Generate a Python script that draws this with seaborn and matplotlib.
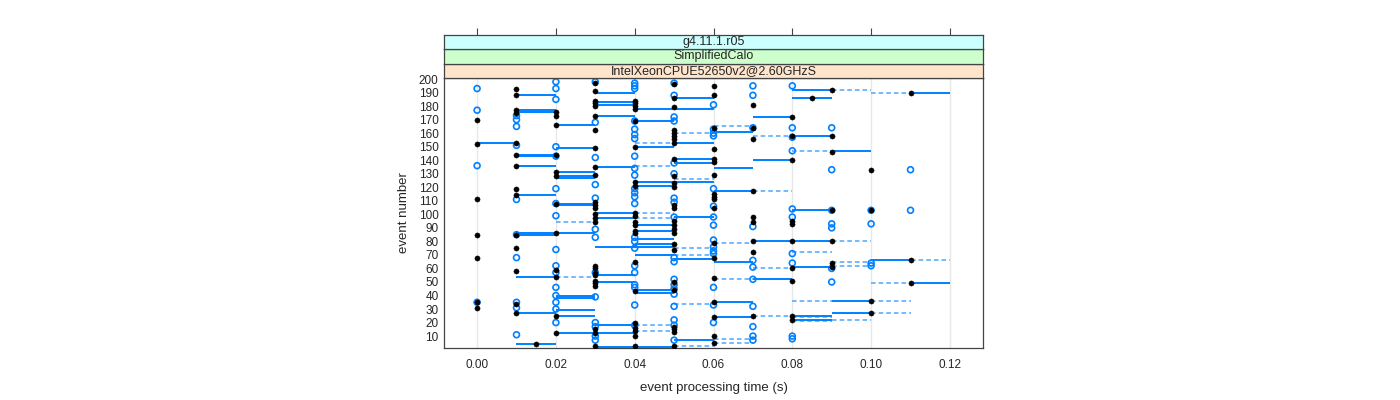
import numpy as np
import pandas as pd
import matplotlib
matplotlib.use("Agg")
import matplotlib.pyplot as plt
import seaborn as sns

# ---------------- data ----------------
strip_labels = ["g4.11.1.r05", "SimplifiedCalo", "IntelXeonCPUE52650v2@2.60GHzS"]
strip_colors = ["#ccffff", "#ccffcc", "#ffe5cc"]

x_ticks = [0.00, 0.02, 0.04, 0.06, 0.08, 0.10, 0.12]
y_ticks = list(range(10, 201, 10))

# black dots: time -> event numbers
black_pts = {
    0.000: [170, 152, 111, 85, 68, 35, 31],
    0.010: [193, 188, 177, 175, 153, 144, 136, 119, 114, 85, 75, 58, 34, 27],
    0.015: [4],
    0.020: [176, 173, 166, 144, 131, 128, 108, 86, 59, 54, 25, 12],
    0.030: [197, 191, 184, 182, 180, 173, 162, 149, 135, 129, 109, 107, 105, 100,
            97, 94, 62, 60, 57, 55, 51, 49, 47, 15, 12, 3],
    0.040: [184, 182, 180, 178, 169, 150, 124, 121, 101, 99, 94, 92, 88, 86, 65,
            43, 20, 16, 14, 10, 3],
    0.050: [196, 186, 179, 162, 160, 158, 156, 153, 141, 128, 123, 120, 107, 105,
            95, 92, 89, 86, 78, 74, 50, 44, 17, 15, 13, 3],
    0.060: [195, 188, 164, 148, 141, 139, 129, 115, 113, 111, 105, 79, 68, 53, 35,
            24, 10, 5],
    0.070: [181, 164, 156, 117, 98, 94, 80, 72, 25],
    0.080: [172, 158, 140, 95, 93, 80, 60, 51, 25, 22],
    0.085: [186],
    0.090: [192, 158, 146, 103, 80, 64, 61],
    0.100: [133, 103, 36, 27],
    0.110: [190, 66, 49],
}

# open circles: time -> event numbers
open_pts = {
    0.000: [193, 177, 136, 35],
    0.010: [173, 170, 165, 151, 111, 85, 68, 35, 31, 11],
    0.020: [198, 193, 185, 150, 143, 119, 108, 99, 74, 62, 57, 46, 40, 35, 30, 20],
    0.030: [198, 168, 142, 122, 112, 89, 83, 57, 39, 20, 17, 10, 7],
    0.040: [197, 195, 193, 169, 163, 159, 156, 143, 134, 129, 119, 116, 113, 108,
            83, 80, 75, 62, 57, 48, 46, 33, 18],
    0.050: [197, 188, 172, 169, 138, 130, 112, 109, 98, 68, 65, 52, 48, 45, 41, 32,
            22, 18, 7],
    0.060: [181, 163, 160, 158, 119, 106, 98, 92, 81, 76, 73, 71, 46, 33, 20],
    0.070: [195, 188, 164, 91, 66, 61, 52, 32, 17, 10, 7],
    0.080: [195, 164, 157, 147, 104, 98, 71, 64, 10, 8],
    0.090: [164, 133, 103, 93, 90, 60, 50],
    0.100: [103, 93, 64, 62],
    0.110: [133, 103],
}

# segments: (start time, end time) -> event numbers
solid_segs = {
    (0.00, 0.01): [153],
    (0.01, 0.02): [188, 177, 176, 144, 143, 136, 114, 86, 85, 54, 27, 4],
    (0.02, 0.03): [166, 149, 131, 128, 127, 108, 107, 86, 40, 38, 29, 25, 12],
    (0.03, 0.04): [190, 183, 181, 173, 135, 101, 97, 55, 50, 18, 12],
    (0.03, 0.05): [76, 2],
    (0.04, 0.05): [178, 169, 150, 124, 121, 92, 88, 82, 78, 70, 44, 42],
    (0.05, 0.06): [186, 178, 153, 141, 138, 124, 98, 67, 7],
    (0.06, 0.07): [161, 134, 117, 65, 35, 24],
    (0.07, 0.08): [172, 140, 80, 52],
    (0.08, 0.09): [192, 186, 158, 103, 80, 61, 25, 22],
    (0.09, 0.10): [147, 36, 27],
    (0.10, 0.11): [66],
    (0.11, 0.12): [190, 49],
}
dashed_segs = {
    (0.02, 0.03): [94, 54],
    (0.04, 0.05): [153, 136, 101, 97, 18, 14],
    (0.05, 0.06): [160, 126, 75, 70, 34, 3],
    (0.06, 0.07): [165, 79, 52, 8, 5],
    (0.07, 0.08): [158, 117, 60, 25],
    (0.08, 0.09): [147, 72, 36, 24, 21],
    (0.09, 0.10): [192, 80, 65, 62, 22],
    (0.10, 0.11): [190, 49, 36, 27],
    (0.11, 0.12): [66],
}

# ---------------- tidy frames ----------------
def pts_frame(d):
    rows = [(t, ev) for t, evs in d.items() for ev in evs]
    return pd.DataFrame(rows, columns=["time", "event"])

def seg_frame(d):
    rows = [(t0, t1, ev) for (t0, t1), evs in d.items() for ev in evs]
    return pd.DataFrame(rows, columns=["t0", "t1", "event"])

df_black = pts_frame(black_pts)
df_open = pts_frame(open_pts)
df_solid = seg_frame(solid_segs)
df_dash = seg_frame(dashed_segs)

# ---------------- plot ----------------
sns.set_style("white")
plt.rcParams["font.family"] = ["Liberation Sans", "DejaVu Sans"]

blue = "#0080ff"
fig = plt.figure(figsize=(14, 4), dpi=100)
ax = fig.add_axes([444 / 1400, 52 / 400, 539 / 1400, 270 / 400])

for x in x_ticks:
    ax.axvline(x, color="#e8e8e8", lw=1, zorder=0)

ax.hlines(df_dash["event"], df_dash["t0"], df_dash["t1"], colors="#4da6ff",
          linestyles=(0, (3, 2)), lw=1.1, zorder=1)
ax.hlines(df_solid["event"], df_solid["t0"], df_solid["t1"], colors=blue,
          lw=1.4, zorder=2)

sns.scatterplot(data=df_open, x="time", y="event", ax=ax, marker="o", s=18,
                facecolor="none", edgecolor=blue, linewidth=1.2, zorder=3)
sns.scatterplot(data=df_black, x="time", y="event", ax=ax, marker="o", s=14,
                color="black", edgecolor="black", linewidth=0.3, zorder=4)

ax.set_xlim(-0.0084, 0.1284)
ax.set_ylim(1.2, 200.8)
ax.set_xticks(x_ticks)
ax.set_xticklabels([f"{v:.2f}" for v in x_ticks], fontsize=8.5)
ax.set_yticks(y_ticks)
ax.set_yticklabels([str(v) for v in y_ticks], fontsize=8.5)
ax.tick_params(axis="x", direction="out", length=5, width=0.8, color="#444444", pad=3)
ax.tick_params(axis="y", length=0, pad=4)
ax.set_xlabel("event processing time (s)", fontsize=9.5, labelpad=8)
ax.set_ylabel("event number", fontsize=9.5, labelpad=6)
for sp in ax.spines.values():
    sp.set_color("#444444")
    sp.set_linewidth(0.9)

# lattice-style strips stacked above the panel
strip_h = 14.5 / 400
top = (400 - 78) / 400
for i, (lab, col) in enumerate(zip(strip_labels[::-1], strip_colors[::-1])):
    sax = fig.add_axes([444 / 1400, top + i * strip_h, 539 / 1400, strip_h])
    sax.set_facecolor(col)
    sax.set_xlim(ax.get_xlim())
    sax.set_yticks([])
    sax.set_xticks([])
    for sp in sax.spines.values():
        sp.set_color("#444444")
        sp.set_linewidth(0.9)
    sax.text(0.5, 0.5, lab, transform=sax.transAxes, ha="center", va="center",
             fontsize=9)
    if i == len(strip_labels) - 1:
        sax.set_xticks(x_ticks)
        sax.tick_params(axis="x", top=True, bottom=False, labeltop=False,
                        labelbottom=False, direction="out", length=5, width=0.8,
                        color="#444444")

fig.savefig("out.png", dpi=100)
plt.close()
